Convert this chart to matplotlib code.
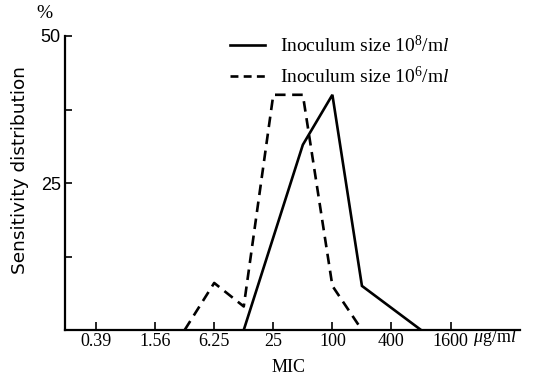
import numpy as np
import matplotlib
matplotlib.use('Agg')
import matplotlib.pyplot as plt

# MIC dilution series (ug/ml) and distributions (%)
tick_mic = ['0.39', '1.56', '6.25', '25', '100', '400', '1600']
mic_1e8 = [12.5, 50, 100, 200, 800]
pct_1e8 = [0, 31.5, 40, 7.5, 0]
mic_1e6 = [3.125, 6.25, 12.5, 25, 50, 100, 200]
pct_1e6 = [0, 8, 4, 40, 40, 7.5, 0]


def pos(m):
    # two-fold dilution steps from 0.39
    return np.log2(np.asarray(m, dtype=float) / 0.390625)


plt.rcParams['font.family'] = ['Liberation Serif', 'DejaVu Serif']
plt.rcParams['mathtext.fontset'] = 'custom'
plt.rcParams['mathtext.rm'] = 'Liberation Serif'
plt.rcParams['mathtext.it'] = 'Liberation Serif:italic'

W, H = 539, 378
fig = plt.figure(figsize=(W / 100, H / 100), dpi=100)
ax = fig.add_axes([65 / W, 1 - 330 / H, 455 / W, 294 / H])

ax.plot(pos(mic_1e8), pct_1e8, color='black', lw=1.9, solid_joinstyle='miter')
ax.plot(pos(mic_1e6), pct_1e6, color='black', lw=1.9, ls=(0, (4, 2.5)))

ax.set_xlim(-1.05, 14.35)
ax.set_ylim(0, 50)
for s in ['top', 'right']:
    ax.spines[s].set_visible(False)
for s in ['left', 'bottom']:
    ax.spines[s].set_linewidth(1.6)

ax.set_xticks(pos([0.390625, 1.5625, 6.25, 25, 100, 400, 1600]))
ax.set_xticklabels(tick_mic, fontsize=13)
ax.tick_params(axis='x', direction='in', length=6, width=1.2, pad=2)
ax.set_yticks([25, 50])
ax.set_yticklabels(['25', '50'], fontsize=13, family='Liberation Sans')
ax.set_yticks([12.5, 37.5], minor=True)
ax.tick_params(axis='y', which='both', direction='in', length=5, width=1.2, pad=3)

fig.text(473 / W, 1 - 337 / H, r'$\mathit{\mu}$g/m$\mathit{l}$', fontsize=13,
         ha='left', va='center')
fig.text(44 / W, 1 - 14 / H, '%', fontsize=14, ha='center', va='center')
fig.text(289 / W, 1 - 367 / H, 'MIC', fontsize=13, ha='center', va='center')
fig.text(20 / W, 1 - 170 / H, 'Sensitivity distribution', fontsize=13.3,
         family='DejaVu Sans', rotation=90, ha='center', va='center')

# legend drawn by hand like the original
lx0, lx1 = 230 / W, 265 / W
fig.add_artist(plt.Line2D([lx0, lx1], [1 - 45 / H] * 2, color='black', lw=1.9))
fig.add_artist(plt.Line2D([lx0, lx1], [1 - 76 / H] * 2, color='black', lw=1.9,
                          ls=(0, (3, 2))))
fig.text(280 / W, 1 - 45 / H, r'Inoculum size 10$^{8}$/m$\mathit{l}$', fontsize=14,
         va='center')
fig.text(280 / W, 1 - 76 / H, r'Inoculum size 10$^{6}$/m$\mathit{l}$', fontsize=14,
         va='center')

fig.savefig('out.png', dpi=100)
